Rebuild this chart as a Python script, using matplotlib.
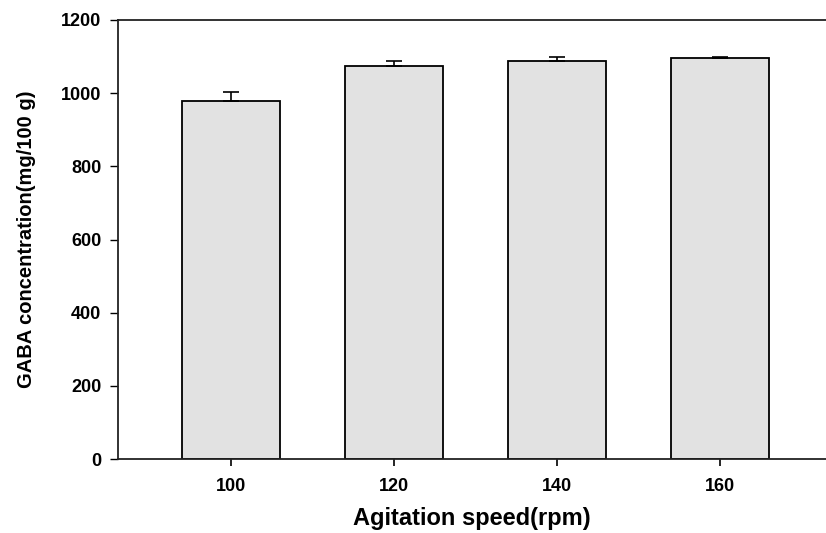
import numpy as np
import matplotlib
matplotlib.use("Agg")
import matplotlib.pyplot as plt

plt.rcParams['font.family'] = ['Liberation Sans', 'DejaVu Sans']

# data
speed = [100, 120, 140, 160]
gaba = [978, 1074, 1088, 1097]
gaba_err = [25, 13, 12, 3]

fig = plt.figure(figsize=(8.26, 5.33), dpi=100)
ax = fig.add_axes([0.1429, 0.1388, 0.8571, 0.8237])

ax.bar(speed, gaba, width=12, color="#e2e2e2", edgecolor="black", linewidth=1.3, zorder=2)
ax.errorbar(speed, gaba, yerr=[np.zeros(len(gaba_err)), gaba_err], fmt="none",
            ecolor="black", elinewidth=1.2, capsize=5.5, capthick=1.2, zorder=3)

ax.set_xlim(86.1, 173)
ax.set_ylim(0, 1200)
ax.set_xticks(speed)
ax.set_yticks(np.arange(0, 1201, 200))

ax.spines["right"].set_visible(False)
for s in ["left", "top", "bottom"]:
    ax.spines[s].set_linewidth(1.3)
    ax.spines[s].set_color("#222222")

ax.tick_params(axis="x", direction="out", length=5, width=1.2, pad=9, labelsize=13)
ax.tick_params(axis="y", direction="out", length=6, width=1.0, pad=6, labelsize=13)
for lab in ax.get_xticklabels() + ax.get_yticklabels():
    lab.set_fontweight("bold")

ax.set_xlabel("Agitation speed(rpm)", fontsize=17, fontweight="bold", labelpad=8)
ax.set_ylabel("GABA concentration(mg/100 g)", fontsize=14.5, fontweight="bold", labelpad=18)

fig.savefig("out.png", dpi=100)
